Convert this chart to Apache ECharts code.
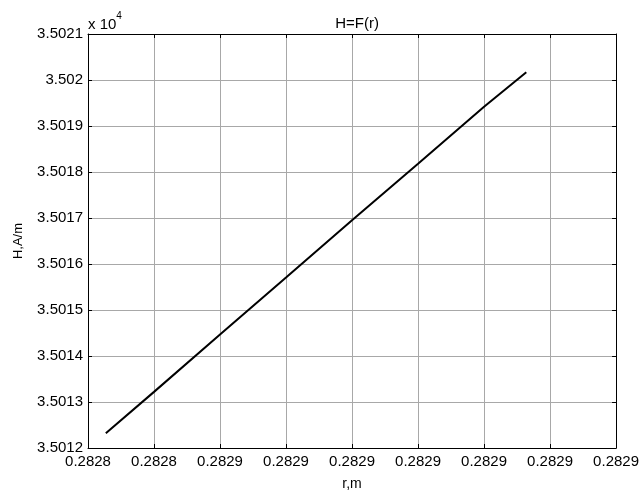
<!DOCTYPE html>
<html>
<head>
<meta charset="utf-8">
<script src="https://cdn.jsdelivr.net/npm/echarts@6/dist/echarts.min.js"></script>
<style>
html,body{margin:0;padding:0;background:#fff;}
#chart{width:642px;height:496px;}
</style>
</head>
<body>
<div id="chart"></div>
<script>
// r in m, H in A/m
const rValues = [0.2828327, 0.28284, 0.28285, 0.28286, 0.28287, 0.28288, 0.28289, 0.2828964]
const hValues = [35012.32, 35013.22, 35014.466, 35015.704, 35016.95, 35018.177, 35019.417, 35020.168]
// matlab rounded tick labels on x
const xTickLabels = ['0.2828','0.2828','0.2829','0.2829','0.2829','0.2829','0.2829','0.2829','0.2829']
const xMin = 0.28283, xStep = 0.00001, xMax = 0.28291
const yMin = 35012, yMax = 35021

const font = 'Liberation Sans, Arial, Helvetica, sans-serif'
const gridColor = '#a8a8a8'
const data = rValues.map((r, i) => [r, hValues[i]])

const mychart = echarts.init(document.getElementById('chart'))
const option = {
    animation: false,
    backgroundColor: '#fff',
    title: {
        text: 'H=F(r)',
        left: 352, top: 11, textAlign: 'center',
        textStyle: {fontFamily: font, fontSize: 15, fontWeight: 'normal', color: '#000'}
    },
    graphic: [{
        type: 'text', left: 88, top: 11,
        style: {
            text: '{a|x 10}{b|4}',
            rich: {
                a: {fontFamily: font, fontSize: 15, fill: '#000', padding: [6, 0, 0, 0]},
                b: {fontFamily: font, fontSize: 10, fill: '#000', verticalAlign: 'top'}
            }
        }
    }],
    grid: {left: 88, right: 25, top: 34, bottom: 47},
    xAxis: [{
        type: 'value', min: xMin, max: xMax, interval: xStep,
        name: 'r,m', nameLocation: 'middle', nameGap: 29,
        nameTextStyle: {fontFamily: font, fontSize: 14, color: '#000'},
        axisLine: {lineStyle: {color: '#000', width: 1}},
        axisTick: {inside: true, length: 4, lineStyle: {color: '#000'}},
        axisLabel: {
            fontFamily: font, fontSize: 15, color: '#000', margin: 6,
            formatter: v => xTickLabels[Math.round((v - xMin) / xStep)]
        },
        splitLine: {show: true, lineStyle: {color: gridColor, width: 1}}
    }, {
        type: 'value', position: 'top', min: xMin, max: xMax, interval: xStep,
        axisLine: {show: true, lineStyle: {color: '#000'}},
        axisTick: {inside: true, length: 4, lineStyle: {color: '#000'}},
        axisLabel: {show: false},
        splitLine: {show: false}
    }],
    yAxis: [{
        type: 'value', min: yMin, max: yMax, interval: 1,
        name: 'H,A/m', nameLocation: 'middle', nameGap: 63,
        nameTextStyle: {fontFamily: font, fontSize: 13, color: '#000'},
        axisLine: {show: true, lineStyle: {color: '#000', width: 1}},
        axisTick: {show: true, inside: true, length: 4, lineStyle: {color: '#000'}},
        axisLabel: {
            fontFamily: font, fontSize: 15, color: '#000', margin: 5,
            formatter: v => String(+(v / 1e4).toFixed(4))
        },
        splitLine: {show: true, lineStyle: {color: gridColor, width: 1}}
    }, {
        type: 'value', position: 'right', min: yMin, max: yMax, interval: 1,
        axisLine: {show: true, lineStyle: {color: '#000'}},
        axisTick: {show: true, inside: true, length: 4, lineStyle: {color: '#000'}},
        axisLabel: {show: false},
        splitLine: {show: false}
    }],
    series: [{
        type: 'line',
        data: data,
        symbol: 'none',
        lineStyle: {color: '#000', width: 2},
        z: 5
    }]
}
mychart.setOption(option)
</script>
</body>
</html>
